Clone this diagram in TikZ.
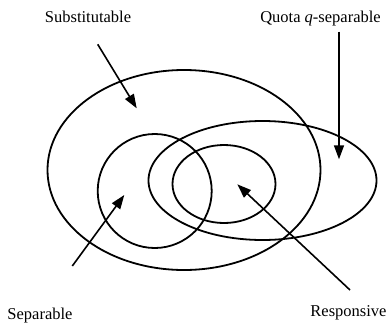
\documentclass[tikz,border=0pt]{standalone}
\usepackage{fontspec}
\setmainfont{Liberation Serif}
\usetikzlibrary{shapes.geometric,arrows.meta}
\begin{document}
\begin{tikzpicture}[x=1pt,y=-1pt,
  set/.style={draw,ellipse,line width=1.8pt,inner sep=0pt},
  lbl/.style={font=\fontsize{16.5}{20}\selectfont,anchor=base,inner sep=0pt},
  pointer/.style={line width=1.6pt,-{Triangle[length=14pt,width=10pt]}}]
\useasboundingbox (0,0) rectangle (386,325);
\node[set,minimum width=273pt,minimum height=200pt] (subst) at (184,170) {};
\node[set,minimum width=114pt,minimum height=114pt] (sep) at (154.7,191) {};
\node[set,minimum width=228pt,minimum height=119pt] (quota) at (262.5,180.5) {};
\node[set,minimum width=103pt,minimum height=78pt] (resp) at (224,184) {};
\node[lbl] (tsubst) at (88,22.7) {Substitutable};
\node[lbl] (tquota) at (320.5,22.7) {Quota \textit{q}-separable};
\node[lbl] (tsep) at (40,319) {Separable};
\node[lbl] (tresp) at (348.5,316) {Responsive};
\coordinate (a1) at (97.7,44.3);
\coordinate (b1) at (136.7,108.3);
\coordinate (a2) at (339,31.7);
\coordinate (b2) at (339,159.3);
\coordinate (a3) at (72.3,266);
\coordinate (b3) at (124.3,195);
\coordinate (a4) at (350,290);
\coordinate (b4) at (237.3,184.3);
\draw[pointer] (a1) -- (b1);
\draw[pointer] (a2) -- (b2);
\draw[pointer] (a3) -- (b3);
\draw[pointer] (a4) -- (b4);
\end{tikzpicture}
\end{document}
